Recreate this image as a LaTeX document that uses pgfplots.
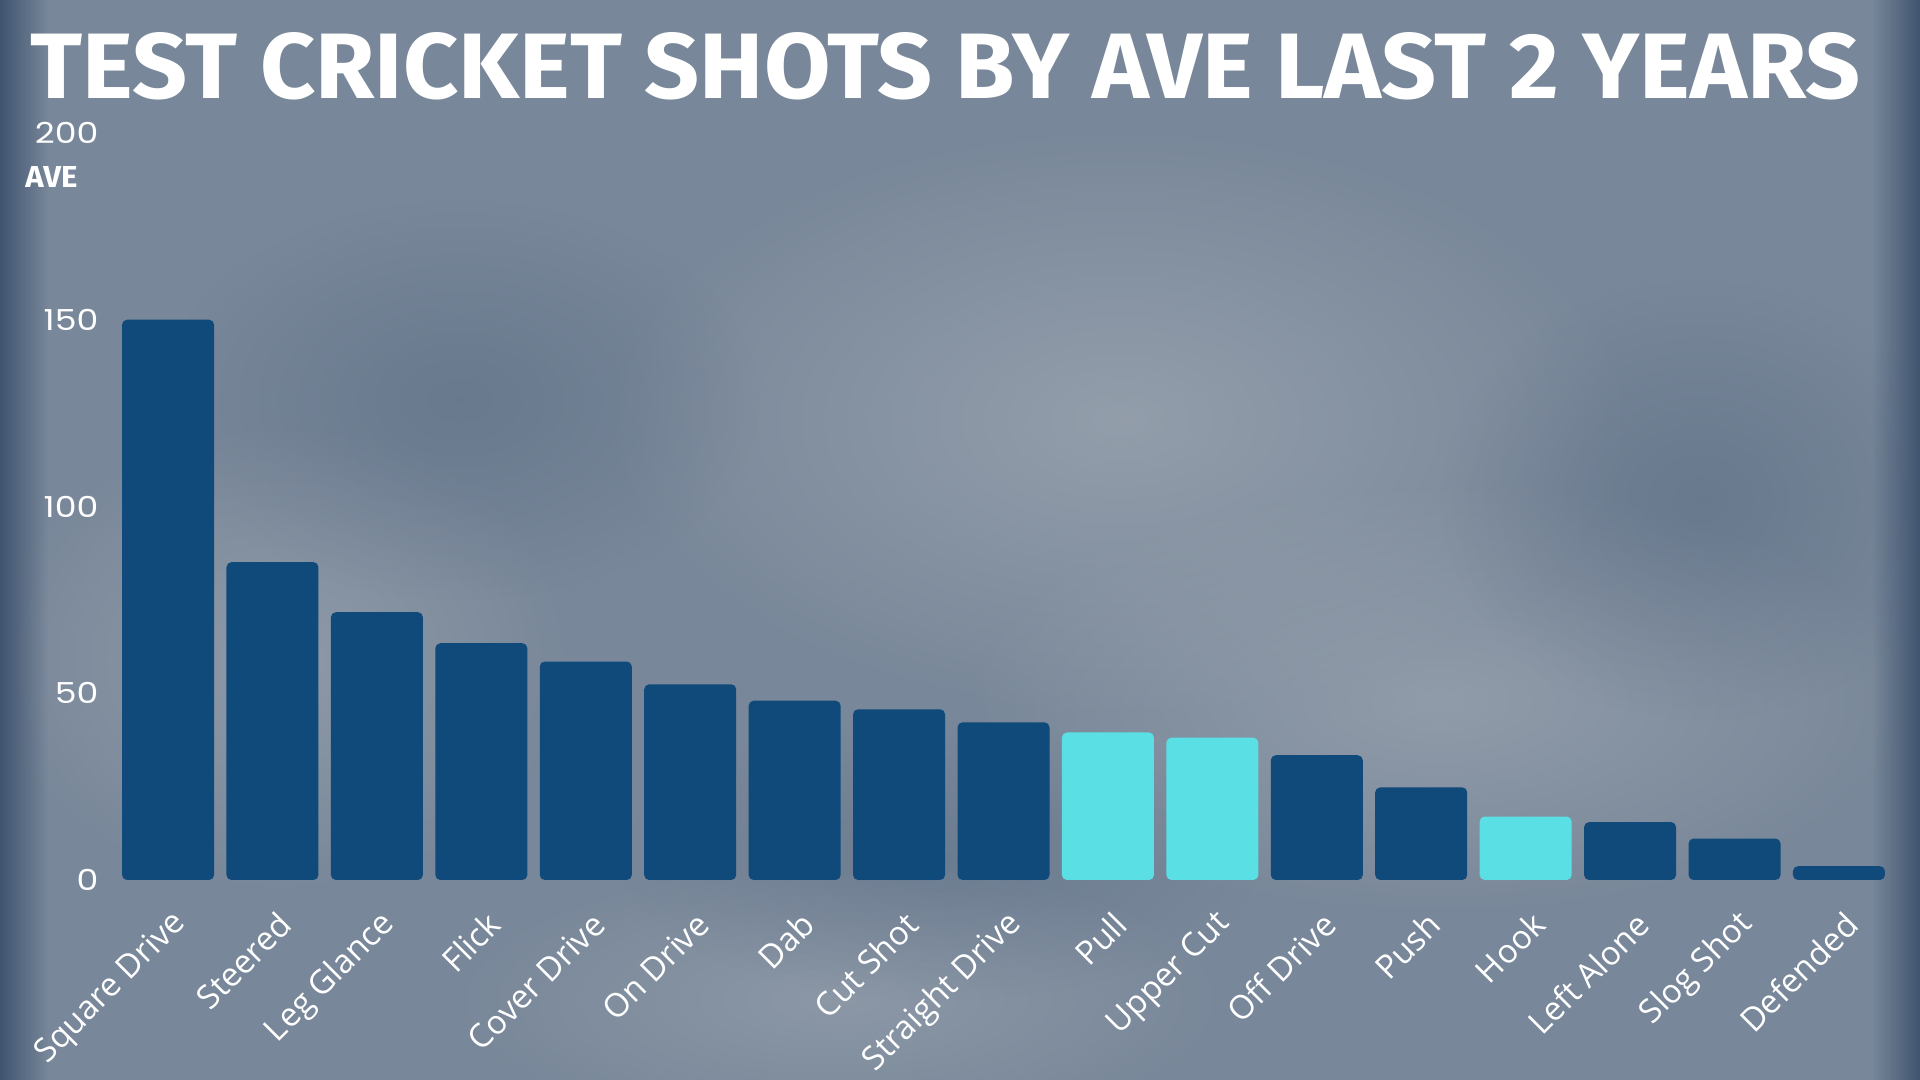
\documentclass[border=0pt]{standalone}
\usepackage{pgfplots}
\pgfplotsset{compat=1.18}
\usetikzlibrary{fadings}
\usepackage{graphicx}
\usepackage{fontspec}
\setmainfont{Open Sans}
\newfontfamily\poppins{Poppins}[FakeStretch=1.2]
\newfontfamily\titlefont{Fira Sans}
\definecolor{bgbase}{RGB}{120,135,153}
\definecolor{bglight}{RGB}{170,177,186}
\definecolor{bgdark}{RGB}{86,104,128}
\definecolor{bgedge}{RGB}{64,84,112}
\definecolor{bardark}{RGB}{15,74,122}
\definecolor{barcyan}{RGB}{90,224,228}
\tikzfading[name=softblob, inner color=transparent!0, outer color=transparent!100]
\tikzfading[name=fadeR, left color=transparent!0, right color=transparent!100]
\tikzfading[name=fadeL, left color=transparent!100, right color=transparent!0]
\begin{document}
\begin{tikzpicture}
\path[use as bounding box] (0,0) rectangle (960bp,540bp);
\fill[bgbase] (0,0) rectangle (960bp,540bp);
% soft texture blobs
\fill[bglight, opacity=0.55, path fading=softblob] (560bp,330bp) ellipse (260bp and 150bp);
\fill[bglight, opacity=0.5, path fading=softblob] (720bp,190bp) ellipse (240bp and 110bp);
\fill[bglight, opacity=0.45, path fading=softblob] (140bp,210bp) ellipse (150bp and 120bp);
\fill[bglight, opacity=0.4, path fading=softblob] (420bp,40bp) ellipse (200bp and 70bp);
\fill[bgdark, opacity=0.45, path fading=softblob] (230bp,340bp) ellipse (150bp and 100bp);
\fill[bgdark, opacity=0.45, path fading=softblob] (850bp,290bp) ellipse (130bp and 110bp);
\fill[bgdark, opacity=0.35, path fading=softblob] (470bp,110bp) ellipse (160bp and 70bp);
\fill[bgedge, path fading=fadeR] (0,0) rectangle (24bp,540bp);
\fill[bgedge, path fading=fadeL] (936bp,0) rectangle (960bp,540bp);
% title
\node[anchor=south west, inner sep=0pt, text=white] at (15bp,490bp)
  {\resizebox{915bp}{33bp}{\titlefont\bfseries TEST CRICKET SHOTS BY AVE LAST 2 YEARS}};
% y axis title
\node[anchor=south west, inner sep=0pt, text=white] at (12.5bp,446bp)
  {\resizebox{26bp}{10.5bp}{\titlefont\bfseries AVE}};
\begin{axis}[
  at={(52.7bp,100bp)}, anchor=south west,
  scale only axis, width=898.1bp, height=373.5bp,
  xmin=-0.6, xmax=16.6, ymin=0, ymax=200,
  ytick={0,50,100,150,200},
  xtick={0,...,16},
  xticklabels={Square Drive,Steered,Leg Glance,Flick,Cover Drive,On Drive,Dab,Cut Shot,Straight Drive,Pull,Upper Cut,Off Drive,Push,Hook,Left Alone,Slog Shot,Defended},
  axis line style={draw=none},
  major tick length=0pt,
  tick style={draw=none},
  /pgf/number format/assume math mode=true,
  yticklabel style={text=white, font=\poppins\fontsize{14.5}{15}\selectfont},
  xticklabel style={text=white, font=\fontsize{16.5}{17}\selectfont, xshift=9bp, yshift=-17bp, rotate=45, anchor=east},
  clip=false,
]
\addplot[ybar, bar shift=0pt, bar width=46bp, fill=bardark, draw=none, rounded corners=2.5bp]
  coordinates {(0,150.0) (1,85.1) (2,71.7) (3,63.4) (4,58.5) (5,52.4) (6,48.0) (7,45.7) (8,42.2) (11,33.4) (12,24.8) (14,15.5) (15,11.1) (16,3.7)};
\addplot[ybar, bar shift=0pt, bar width=46bp, fill=barcyan, draw=none, rounded corners=2.5bp]
  coordinates {(9,39.5) (10,38.1) (13,17.0)};
\end{axis}
\end{tikzpicture}
\end{document}
